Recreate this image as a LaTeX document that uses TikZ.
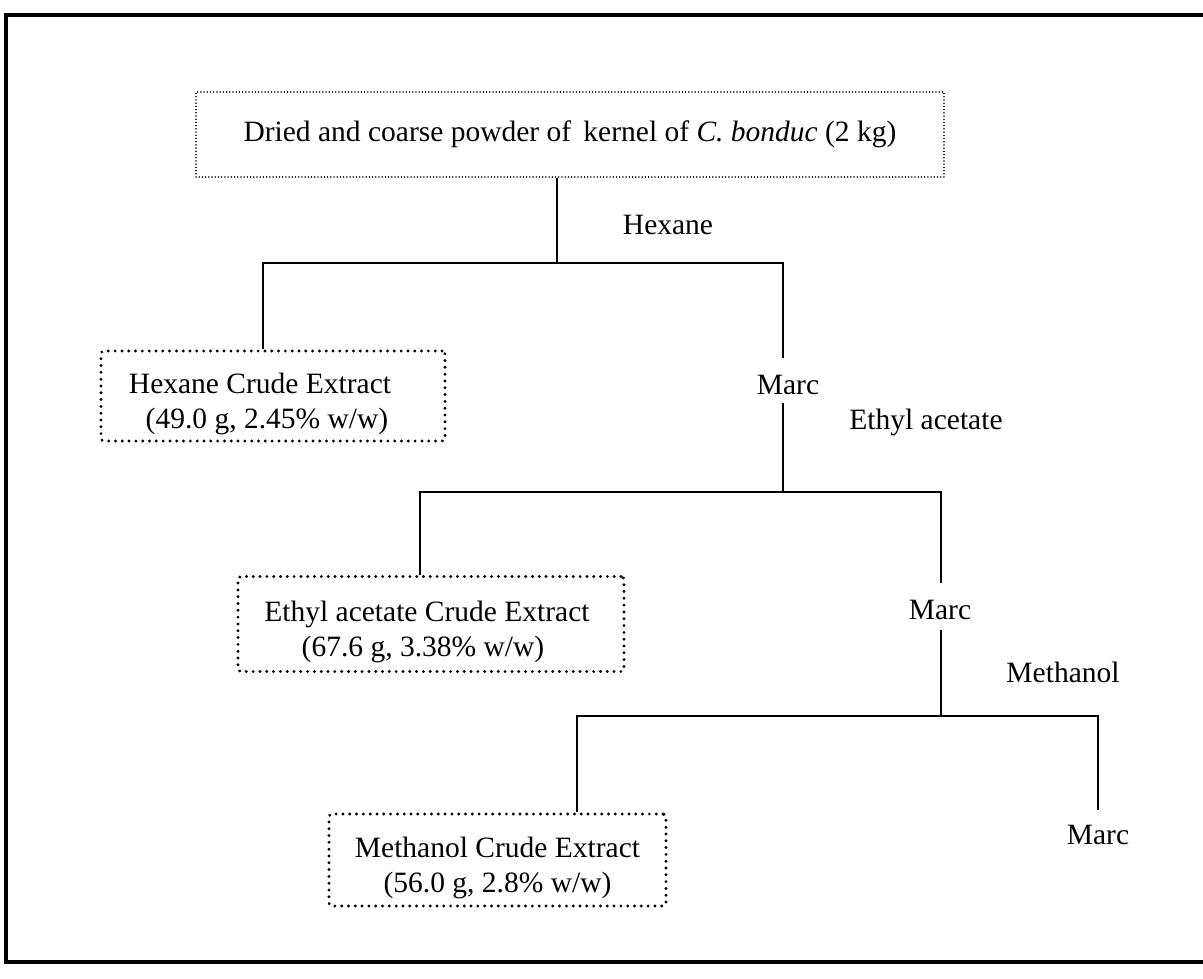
\documentclass[tikz,border=0pt]{standalone}
\usepackage{fontspec}
\setmainfont{Liberation Serif}
\newcommand{\topstrut}{\rule{0pt}{37pt}}
\begin{document}
\begin{tikzpicture}[x=1pt,y=-1pt,
  txt/.style={font=\fontsize{29.5}{35}\selectfont, inner sep=0pt},
  topbox/.style={txt, draw, line width=1.5pt, line cap=round, dash pattern=on 0.01pt off 3.2pt, minimum width=748pt, minimum height=85pt},
  resbox/.style={txt, draw, line width=3.2pt, line cap=round, dash pattern=on 0.01pt off 6.8pt, rounded corners=3pt, align=center},
  conn/.style={line width=1.8pt},
  frame/.style={line width=3.2pt}]
\useasboundingbox (0,0) rectangle (1203,978);
\draw[frame] (1203,15) -- (6,15) -- (6,962) -- (1203,962);

% nodes
\node[topbox] (top) at (570,134.5) {Dried and coarse powder of \,kernel of \textit{C. bonduc} (2 kg)};
\node[txt] (hex) at (668,225) {Hexane};
\node[resbox, minimum width=344pt, minimum height=90pt] (hexbox) at (273,396) {\topstrut\hspace*{-26pt}Hexane Crude Extract\\\hspace*{-12pt}(49.0 g, 2.45\% w/w)};
\node[txt] (m1) at (788,385) {Marc};
\node[txt] (ea) at (926,422) {Ethyl acetate};
\node[resbox, minimum width=386pt, minimum height=95pt] (eabox) at (431,624) {\topstrut\hspace*{-8pt}Ethyl acetate Crude Extract\\\hspace*{-16pt}(67.6 g, 3.38\% w/w)};
\node[txt] (m2) at (940,610) {Marc};
\node[txt] (me) at (1063,672) {Methanol};
\node[resbox, minimum width=337pt, minimum height=92pt] (mebox) at (497.5,860) {\topstrut Methanol Crude Extract\\(56.0 g, 2.8\% w/w)};
\node[txt] (m3) at (1098,835) {Marc};

% junction coordinates
\coordinate (j1) at (557,263);
\coordinate (j1l) at (263,263);
\coordinate (j1r) at (783,263);
\coordinate (j2) at (783,492);
\coordinate (j2l) at (420,492);
\coordinate (j2r) at (941,492);
\coordinate (j3) at (941,716);
\coordinate (j3l) at (577,716);
\coordinate (j3r) at (1098,716);

% connectors
\draw[conn] (top.south -| j1) -- (j1);
\draw[conn] (hexbox.north -| j1l) -- (j1l) -- (j1r) -- ([yshift=17pt]m1.north -| j1r);
\draw[conn] ([yshift=-8pt]m1.south -| j2) -- (j2);
\draw[conn] (eabox.north -| j2l) -- (j2l) -- (j2r) -- ([yshift=17pt]m2.north -| j2r);
\draw[conn] ([yshift=-10pt]m2.south -| j3) -- (j3);
\draw[conn] (mebox.north -| j3l) -- (j3l) -- (j3r) -- ([yshift=15pt]m3.north -| j3r);
\end{tikzpicture}
\end{document}
